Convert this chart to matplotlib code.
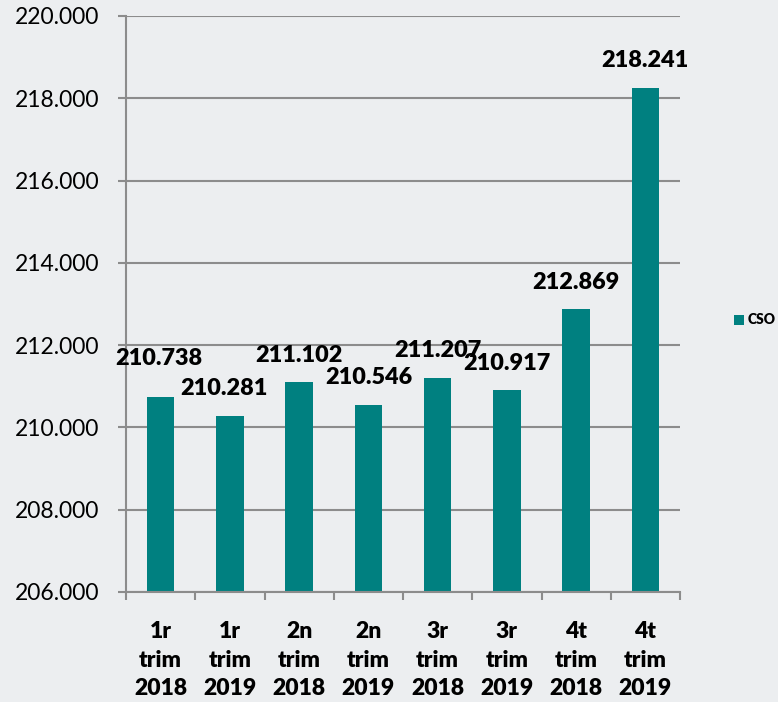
import matplotlib
matplotlib.use("Agg")
import matplotlib.pyplot as plt
from matplotlib.ticker import FuncFormatter, FixedLocator
import numpy as np

categories = ["1r\ntrim\n2018", "1r\ntrim\n2019", "2n\ntrim\n2018", "2n\ntrim\n2019",
              "3r\ntrim\n2018", "3r\ntrim\n2019", "4t\ntrim\n2018", "4t\ntrim\n2019"]
values = [210738, 210281, 211102, 210546, 211207, 210917, 212869, 218241]
series_name = "CSO"
# label offsets in pixels (dx, dy) from bar top centre
label_offsets = [(-2, 39), (-6, 27), (0, 27), (0, 27), (0, 27), (0, 26), (0, 27), (0, 28)]

FONT = "Lato"
BAR = "#008080"
GRID = "#8c8c8c"
BG = "#eceef0"
W = 800

def fmt(v, pos=None):
    return f"{int(round(v)):,}".replace(",", ".")

fig = plt.figure(figsize=(7.78, 7.02), dpi=100)
fig.patch.set_facecolor(BG)
ax = fig.add_axes([126/778, 1-592/702, (680-126)/778, (592-16)/702])
ax.set_facecolor("none")

x = np.arange(len(values))
bars = ax.bar(x, values, width=0.40, color=BAR, zorder=3, label=series_name)

ax.set_xlim(-0.5, len(values)-0.5)
ax.set_ylim(206000, 220000)
ax.set_yticks(np.arange(206000, 220001, 2000))
ax.yaxis.set_major_formatter(FuncFormatter(fmt))
ax.grid(axis="y", color=GRID, linewidth=1.5, zorder=0)

for s in ["top", "right"]:
    ax.spines[s].set_visible(False)
for s in ["left", "bottom"]:
    ax.spines[s].set_color(GRID)
    ax.spines[s].set_linewidth(1.5)
    ax.spines[s].set_zorder(4)

ax.tick_params(axis="y", length=6, width=1.5, color=GRID, pad=13, labelsize=16.5)
for t in ax.get_yticklabels():
    t.set_fontfamily(FONT)

ax.set_xticks(x)
ax.set_xticklabels(categories, fontfamily=FONT, fontweight=W, fontsize=16.5, linespacing=1.45)
ax.tick_params(axis="x", which="major", length=0, pad=21)
ax.xaxis.set_minor_locator(FixedLocator(np.arange(-0.5, len(values), 1.0)))
ax.tick_params(axis="x", which="minor", length=6, width=1.5, color=GRID)

for xi, v, (dx, dy) in zip(x, values, label_offsets):
    ax.annotate(fmt(v), (xi, v), xytext=(dx*0.72, dy*0.72), textcoords="offset points",
                ha="center", va="center", fontfamily=FONT, fontweight=W,
                fontsize=16.8, color="black", zorder=5)

leg = fig.legend(handles=[bars], labels=[series_name], loc="center left",
                 bbox_to_anchor=(734/778, 1-320/702), frameon=False, borderaxespad=0,
                 prop={"family": FONT, "weight": W, "size": 10},
                 handlelength=0.7, handleheight=0.7, handletextpad=0.3, borderpad=0)

fig.savefig("out.png", dpi=100, facecolor=fig.get_facecolor())
